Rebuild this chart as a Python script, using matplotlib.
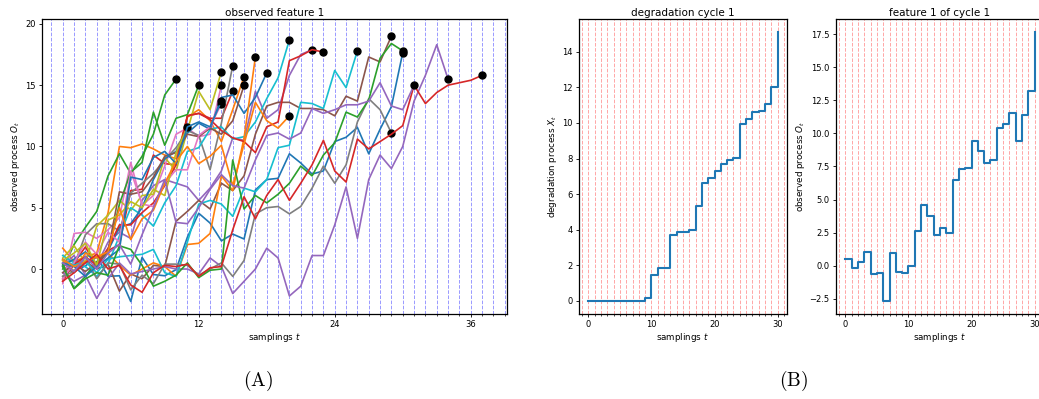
import numpy as np
import matplotlib
matplotlib.use("Agg")
import matplotlib.pyplot as plt
from matplotlib.ticker import MultipleLocator

# observed feature 1 for every degradation cycle (one list per cycle, t = 0, 1, 2, ...)
cycles = [
    [0.5, -0.15, 0.25, 1.0, -0.6, -0.55, -2.65, 0.95, -0.45, -0.55, -0.05, 2.6, 4.55, 3.75, 2.3, 2.85,
     2.45, 6.45, 7.3, 7.4, 9.4, 8.65, 7.75, 8.0, 10.4, 10.75, 11.55, 9.4, 11.4, 13.25, 17.65],
    [1.7, 0.6, 1.0, 1.3, 4.6, 10.0, 9.9, 10.2, 9.8, 9.3, 9.0, 12.4, 13.0, 12.1, 10.4, 13.0, 15.7],
    [0.0, 2.0, 3.4, 4.7, 7.6, 9.4, 7.8, 9.2, 11.0, 14.2, 15.5],
    [-1.0, 0.5, 1.8, 0.2, 1.5, 2.0, 6.4, 6.5, 9.3, 8.6, 8.5, 12.5, 12.7, 12.3, 12.3, 14.5],
    [0.3, 1.1, -0.5, 0.3, 2.2, 3.0, 2.5, 5.6, 6.8, 7.3, 7.0, 6.7, 5.6, 6.6, 8.0, 10.7, 10.5, 14.5,
     12.3, 13.0, 15.8, 17.5, 17.9],
    [0.2, -0.3, 0.6, 0.0, 0.4, -1.8, -0.4, -0.8, 0.3, 0.2, 3.9, 4.7, 5.6, 4.9, 7.0, 6.4, 7.6, 11.0,
     13.3, 13.6, 13.6, 13.1, 13.1, 13.0, 12.5, 14.1, 13.7, 17.3, 16.9, 19.0],
    [-1.2, 2.9, 3.0, 2.5, 3.2, 4.2, 8.7, 5.2, 6.0, 8.4, 11.0, 11.5, 10.8, 11.0, 15.0],
    [-0.6, 0.3, 2.8, 3.7, 3.7, 3.1, 6.2, 7.0, 7.8, 8.9, 9.9, 11.3, 10.9, 8.1, 11.9, 16.6],
    [0.9, 1.9, 0.5, 3.5, 4.4, 5.6, 4.8, 6.0, 6.1, 9.1, 8.0, 11.3, 14.5, 13.0, 16.1],
    [1.1, 0.5, 0.2, -0.6, 0.4, 2.7, 5.0, 4.4, 3.5, 5.4, 6.8, 9.6, 9.9, 11.4, 11.6, 10.6, 10.8, 12.0,
     13.9, 15.6, 18.7],
    [0.3, 0.8, 1.4, 0.4, 1.5, 3.4, 3.7, 5.0, 7.3, 9.0, 9.6, 11.1, 11.9, 11.4, 14.0, 14.2, 12.7, 14.0, 16.0],
    [0.7, -0.2, 1.3, 0.9, 1.3, 0.3, -0.5, 0.0, 0.5, 0.2, -0.6, 2.0, 2.1, 2.9, 7.6, 6.4, 10.7, 17.3],
    [0.4, -1.6, -0.6, 0.6, 1.3, 5.3, 7.9, 8.7, 12.8, 10.1, 12.3, 12.6, 15.0],
    [-0.8, 0.4, 1.0, 0.3, 1.7, 3.6, 3.6, 4.6, 5.4, 6.8, 8.5, 12.5, 12.7, 12.2, 11.3, 10.7, 10.4, 9.5,
     11.6, 12.0, 17.0, 17.4, 17.9, 17.7],
    [-0.3, -1.0, -0.5, -2.4, -0.8, 0.5, -0.4, -0.2, 0.0, 0.2, 0.0, 0.0, -0.4, 0.9, 0.2, -2.0, -1.0,
     0.0, 1.7, 0.9, -2.2, -1.4, 1.1, 1.1, 3.6, 6.7, 2.5, 7.3, 9.3, 8.2, 10.0, 13.7, 15.8, 18.3, 15.5],
    [-0.3, 0.4, -0.2, 0.5, 1.5, 6.3, 6.1, 6.3, 7.5, 9.2, 9.5, 11.0, 10.8, 11.5, 11.0, 12.1, 15.0],
    [-0.8, 0.5, 2.2, 1.2, 3.0, 2.2, 8.0, 5.3, 5.1, 7.0, 8.1, 8.1, 10.9, 11.6, 13.5],
    [-0.6, -0.2, 1.0, -0.8, 0.5, 0.4, -1.7, -0.5, -1.2, 0.4, 0.4, 0.3, -0.5, 0.0, 0.5, -0.6, 0.7, 4.5,
     5.0, 5.1, 4.5, 5.1, 6.6, 8.4, 7.0, 8.5, 12.0, 13.9, 13.0, 11.1],
    [0.7, 1.3, 2.1, 0.3, 4.0, 4.4, 5.5, 5.0, 6.5, 6.0, 9.5, 11.6],
    [0.8, 0.3, 0.6, -0.3, 0.8, 1.0, 1.1, 1.2, 1.6, -0.3, -0.6, 2.2, 5.3, 5.6, 5.3, 4.3, 6.6, 6.3, 7.3,
     9.9, 10.1, 13.6, 13.5, 13.1, 16.2, 14.8, 17.8],
    [0.5, 0.2, -0.6, 0.2, 0.9, 1.6, 7.5, 7.3, 9.1, 9.6, 8.6, 11.6, 12.0, 11.6, 13.7],
    [0.8, 0.2, 0.6, 1.0, 1.4, 5.0, 2.4, 4.1, 4.8, 7.0, 8.8, 10.0, 8.6, 9.2, 10.1, 6.8, 10.2, 13.6,
     12.1, 11.5, 12.5],
    [0.2, -1.6, -0.8, -0.3, -0.5, 1.9, 1.6, 0.3, -1.4, -1.0, -0.5, 0.5, -0.7, -0.1, 0.0, 8.9, 4.9,
     6.0, 5.4, 6.1, 7.0, 8.4, 7.6, 9.3, 10.3, 12.8, 12.4, 13.8, 17.2, 18.4, 17.8],
    [-1.0, -0.3, 0.5, 1.2, 0.0, 0.3, -1.3, -1.9, -0.3, 0.3, 0.2, 0.4, -0.6, 0.1, 0.2, 3.2, 5.9, 4.1,
     6.0, 7.3, 5.6, 7.0, 8.5, 10.5, 8.0, 7.1, 10.6, 9.8, 10.4, 11.0, 11.7, 15.0, 13.5, 14.4, 15.0,
     15.2, 15.4, 15.8],
    [0.5, -0.2, 1.0, 0.0, 1.3, 2.0, 0.4, 2.8, 5.0, 7.3, 3.8, 3.7, 5.0, 6.5, 7.7, 6.8, 6.6, 8.9, 10.9,
     11.1, 10.6, 11.1, 13.1, 12.7, 13.0, 13.4, 13.4, 13.7, 15.2, 13.3, 13.0, 15.0],
]

# hidden degradation process of cycle 1
degradation_1 = [0, 0, 0, 0, 0, 0, 0, 0, 0, 0.15, 1.45, 1.85, 1.85, 3.7, 3.85, 3.85, 4.0, 5.3, 6.6,
                 6.9, 7.3, 7.7, 7.9, 8.05, 9.95, 10.2, 10.6, 10.7, 11.05, 12.0, 15.1]
feature_1 = cycles[0]

plt.rcParams['font.size'] = 6
plt.rcParams['axes.titlesize'] = 7.5
plt.rcParams['axes.labelsize'] = 6.3
plt.rcParams['axes.linewidth'] = 0.9

fig = plt.figure(figsize=(10.39, 3.99), dpi=100)
W, H = 1039, 399

def box(l, t, r, b):
    # axes rectangle from pixel edges
    return [l / W, (H - b) / H, (r - l) / W, (b - t) / H]

# (A) all cycles
ax = fig.add_axes(box(42, 19, 507, 314))
for t in range(-1, 40):
    ax.axvline(t, color='b', ls='--', lw=0.7, alpha=0.4, zorder=0)
for c in cycles:
    ts = np.arange(len(c))
    ax.plot(ts, c, lw=1.2)
    ax.plot(ts[-1], c[-1], 'ko', ms=5)
ax.set_xlim(-1.83, 39.2)
ax.set_ylim(-3.67, 20.4)
ax.xaxis.set_major_locator(MultipleLocator(12))
ax.xaxis.set_minor_locator(MultipleLocator(1))
ax.set_title('observed feature 1', pad=2)
ax.set_xlabel('samplings $t$', labelpad=1)
ax.set_ylabel('observed process $O_t$', labelpad=2)

# (B) degradation of cycle 1
ax2 = fig.add_axes(box(579, 19, 787, 314))
for t in range(-1, 32):
    ax2.axvline(t, color='r', ls='--', lw=0.7, alpha=0.35, zorder=0)
ax2.plot(np.arange(len(degradation_1)), degradation_1, drawstyle='steps-post', lw=1.5)
ax2.set_xlim(-1.5, 31.5)
ax2.xaxis.set_major_locator(MultipleLocator(10))
ax2.xaxis.set_minor_locator(MultipleLocator(1))
ax2.set_title('degradation cycle 1', pad=2)
ax2.set_xlabel('samplings $t$', labelpad=1)
ax2.set_ylabel('degradation process $X_t$', labelpad=2)

# (B) feature of cycle 1
ax3 = fig.add_axes(box(836, 19, 1044, 314))
for t in range(-1, 32):
    ax3.axvline(t, color='r', ls='--', lw=0.7, alpha=0.35, zorder=0)
ax3.plot(np.arange(len(feature_1)), feature_1, drawstyle='steps-post', lw=1.5)
ax3.set_xlim(-1.5, 31.5)
ax3.xaxis.set_major_locator(MultipleLocator(10))
ax3.xaxis.set_minor_locator(MultipleLocator(1))
ax3.set_title('feature 1 of cycle 1', pad=2)
ax3.set_xlabel('samplings $t$', labelpad=1)
ax3.set_ylabel('observed process $O_t$', labelpad=2)

for a in (ax, ax2, ax3):
    a.tick_params(which='major', length=2.5, width=0.6, pad=2)
    a.tick_params(which='minor', length=1.5, width=0.5)

fig.text(257.5 / W, (H - 381) / H, r'$\mathrm{(A)}$', math_fontfamily='cm', fontsize=14,
         ha='center', va='center')
fig.text(794 / W, (H - 381) / H, r'$\mathrm{(B)}$', math_fontfamily='cm', fontsize=14,
         ha='center', va='center')

fig.savefig('out.png', dpi=100)
